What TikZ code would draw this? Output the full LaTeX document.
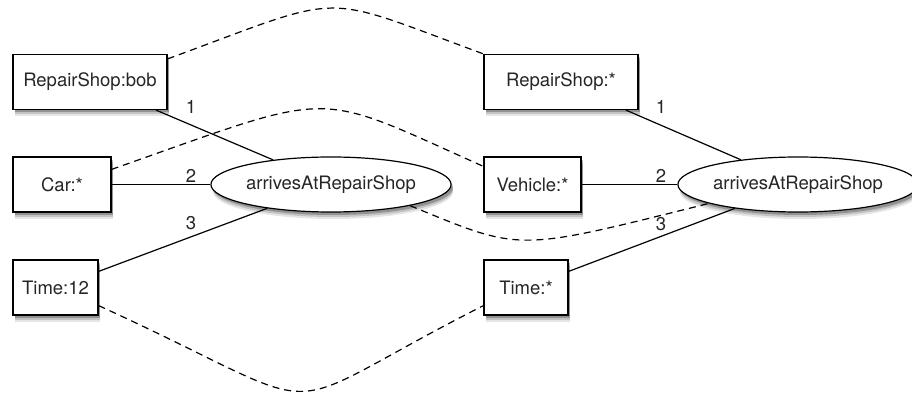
\documentclass[tikz,border=0pt]{standalone}
\usepackage{fontspec}
\setmainfont{TeX Gyre Heros}
\usetikzlibrary{shapes.geometric,shadows}

\tikzset{
  softshadow/.style={
    general shadow={shadow xshift=2pt, shadow yshift=-7pt, fill=black, opacity=0.10},
    general shadow={shadow xshift=2pt, shadow yshift=-5pt, fill=black, opacity=0.15},
    general shadow={shadow xshift=2pt, shadow yshift=-3pt, fill=black, opacity=0.25}},
  obj/.style={draw, fill=white, line width=1.2pt, inner sep=0pt, minimum height=55pt, softshadow},
  rel/.style={obj, ellipse, minimum width=236pt},
  link/.style={line width=1.2pt},
  corr/.style={line width=1.2pt, dash pattern=on 7pt off 5pt},
  num/.style={inner sep=0pt}
}

\begin{document}
\begin{tikzpicture}[x=1pt, y=-1pt, font=\fontsize{18.5}{22}\selectfont, text=black!85]
  \useasboundingbox (0,0) rectangle (912,395);

  \node[obj, minimum width=154pt] (shopbob)  at (90,82)      {RepairShop:bob};
  \node[obj, minimum width=98pt]  (car)      at (62,184.5)   {Car:*};
  \node[obj, minimum width=85pt]  (time12)   at (55.5,287.5) {Time:12};
  \node[rel]                      (arrivesL) at (331,184.5)  {arrivesAtRepairShop};

  \node[obj, minimum width=154pt] (shopany)  at (561,82)     {RepairShop:*};
  \node[obj, minimum width=97pt]  (vehicle)  at (532.5,184.5){Vehicle:*};
  \node[obj, minimum width=84pt]  (timeany)  at (526,287.5)  {Time:*};
  \node[rel, minimum width=228pt] (arrivesR) at (798,184.5)  {arrivesAtRepairShop};

  \draw[link] (shopbob) -- (arrivesL);
  \draw[link] (car) -- (arrivesL);
  \draw[link] (time12) -- (arrivesL);
  \draw[link] (shopany) -- (arrivesR);
  \draw[link] (vehicle) -- (arrivesR);
  \draw[link] (timeany) -- (arrivesR);

  \node[num] (oneL)   at (191,107) {1};
  \node[num] (twoL)   at (191,176) {2};
  \node[num] (threeL) at (191,223) {3};
  \node[num] (oneR)   at (661,107) {1};
  \node[num] (twoR)   at (661,176) {2};
  \node[num] (threeR) at (661,224) {3};

  \draw[corr] ([yshift=-5pt]shopbob.north east)
    .. controls (350,-8) and (315,-8) .. (shopany.north west);
  \draw[corr] ([yshift=-13pt]car.north east)
    .. controls (340,89) and (310,89) .. ([yshift=-10pt]vehicle.north west);
  \draw[corr] (arrivesL.-15)
    .. controls (523,252) and (514,252) .. (arrivesR.192);
  \draw[corr] ([yshift=10pt]time12.south east)
    .. controls (349,420) and (258,420) .. ([yshift=10pt]timeany.south west);
\end{tikzpicture}
\end{document}
